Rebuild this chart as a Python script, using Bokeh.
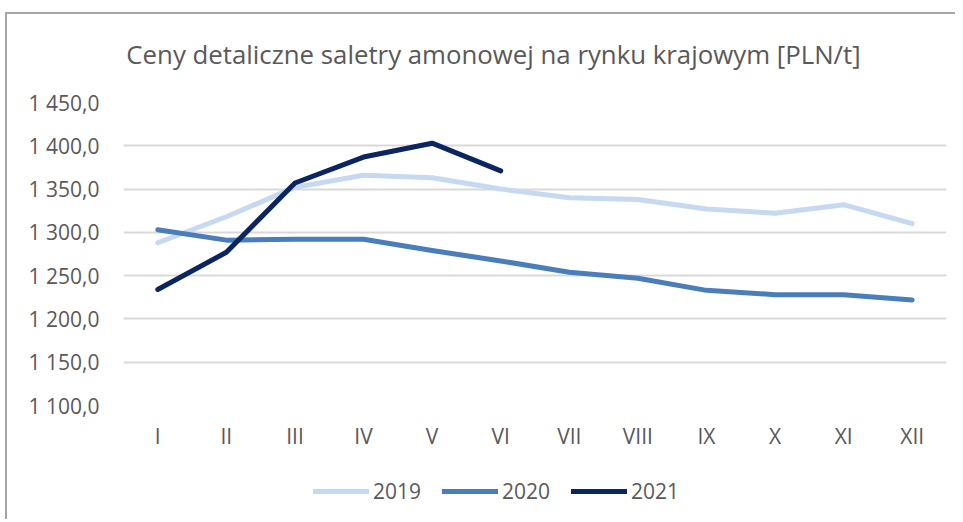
from bokeh.plotting import figure
from bokeh.layouts import column
from bokeh.models import FixedTicker, Legend, LegendItem, Label, Range1d
from bokeh.embed import file_html
from bokeh.resources import INLINE

months = ["I", "II", "III", "IV", "V", "VI", "VII", "VIII", "IX", "X", "XI", "XII"]
y2019 = [1288, 1318, 1352, 1366, 1363, 1350, 1340, 1338, 1327, 1322, 1332, 1310]
y2020 = [1303, 1291, 1292, 1292, 1279, 1267, 1254, 1247, 1233, 1228, 1228, 1222]
y2021 = [1234, 1277, 1357, 1387, 1403, 1371]
y_ticks = [1100, 1150, 1200, 1250, 1300, 1350, 1400, 1450]
y_tick_labels = ["1 100,0", "1 150,0", "1 200,0", "1 250,0", "1 300,0", "1 350,0", "1 400,0", "1 450,0"]
series_names = ["2019", "2020", "2021"]
title_text = "Ceny detaliczne saletry amonowej na rynku krajowym [PLN/t]"

FONT = "Open Sans"
GREY = "#595959"
colors = ["#c6d9f0", "#4a7ebb", "#0b2462"]


def strip(height):
    f = figure(width=948, height=height, output_backend="svg", toolbar_location=None,
               x_axis_location=None, y_axis_location=None,
               x_range=Range1d(0, 1), y_range=Range1d(0, 1),
               min_border=0, min_border_left=0, min_border_right=0,
               min_border_top=0, min_border_bottom=0)
    f.outline_line_color = None
    f.xgrid.visible = False
    f.ygrid.visible = False
    f.background_fill_color = "white"
    f.border_fill_color = "white"
    return f


# title strip
pt = strip(70)
pt.add_layout(Label(x=370, y=31, x_units="screen", y_units="screen", text=title_text,
                    text_font=FONT, text_font_size="25.8px", text_color=GREY,
                    text_align="center", text_baseline="middle"))

# main chart
p = figure(width=948, height=371, output_backend="svg", toolbar_location=None,
           x_range=(0.5, 12.5), y_range=(1100, 1450),
           min_border_left=116, min_border_right=9, min_border_top=18, min_border_bottom=50)
p.outline_line_color = None
p.background_fill_color = "white"
p.border_fill_color = "white"

xs = list(range(1, 13))
p.xaxis.ticker = FixedTicker(ticks=xs)
p.xaxis.major_label_overrides = {i + 1: m for i, m in enumerate(months)}
p.yaxis.ticker = FixedTicker(ticks=y_ticks)
p.yaxis.major_label_overrides = {t: l for t, l in zip(y_ticks, y_tick_labels)}
for ax in (p.xaxis, p.yaxis):
    ax.axis_line_color = None
    ax.major_tick_line_color = None
    ax.minor_tick_line_color = None
    ax.major_tick_out = 0
    ax.major_label_text_font = FONT
    ax.major_label_text_font_size = "21px"
    ax.major_label_text_color = GREY
p.xaxis.major_label_standoff = 16
p.yaxis.major_label_standoff = 24
p.xgrid.grid_line_color = None
p.ygrid.ticker = FixedTicker(ticks=y_ticks)
p.ygrid.grid_line_color = "#d9d9d9"
p.ygrid.grid_line_width = 2

data = [y2019, y2020, y2021]
for col, ys in zip(colors, data):
    p.line(xs[:len(ys)], ys, line_color=col, line_width=5,
           line_cap="round", line_join="round")

# legend strip underneath the chart (its lines lie outside its own ranges)
pl = strip(64)
proxies = [pl.line(xs[:len(ys)], ys, line_color=c, line_width=5, line_cap="round")
           for c, ys in zip(colors, data)]

legend = Legend(items=[LegendItem(label=n, renderers=[r]) for n, r in zip(series_names, proxies)],
                orientation="horizontal", location=(190, 14))
legend.glyph_width = 56
legend.glyph_height = 20
legend.label_standoff = 4
legend.label_width = 48
legend.spacing = 21
legend.padding = 0
legend.margin = 0
legend.label_text_font = FONT
legend.label_text_font_size = "21px"
legend.label_text_color = GREY
legend.background_fill_alpha = 0
legend.border_line_color = None
pl.add_layout(legend)

layout = column(pt, p, pl, spacing=0)
layout.styles = {"border-left": "2px solid #a6a6a6", "border-top": "2px solid #a6a6a6",
                 "margin-top": "12px", "margin-left": "5px"}

open("out.html", "w").write(file_html(layout, INLINE))
